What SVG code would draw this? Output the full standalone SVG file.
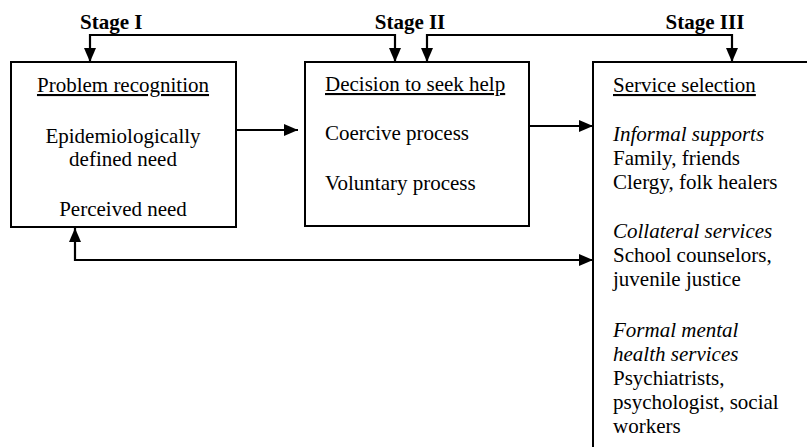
<svg xmlns="http://www.w3.org/2000/svg" width="807" height="447" viewBox="0 0 807 447">
<style>
  .box{fill:#fff;stroke:#000;stroke-width:2}
  .t{font-family:"Liberation Serif","Times New Roman",serif;font-size:21px;fill:#000}
  .b{font-weight:bold}
  .i{font-style:italic}
  .u{text-decoration:underline}
  .c{text-anchor:middle}
  .ln{fill:none;stroke:#000;stroke-width:2.2}
</style>
<defs>
  <marker id="ah" viewBox="0 0 14 12" refX="14" refY="6" markerWidth="14" markerHeight="12" markerUnits="userSpaceOnUse" orient="auto-start-reverse">
    <path d="M0,0 L14,6 L0,12 Z" fill="#000"/>
  </marker>
</defs>
<rect width="807" height="447" fill="#fff"/>
<g id="box1">
  <rect class="box" x="11" y="62" width="225" height="165"/>
  <text class="t c u" x="123" y="92">Problem recognition</text>
  <text class="t c" x="123" y="143">Epidemiologically</text>
  <text class="t c" x="123" y="166">defined need</text>
  <text class="t c" x="123" y="216">Perceived need</text>
</g>
<g id="box2">
  <rect class="box" x="305" y="62" width="224" height="164"/>
  <text class="t u" x="325" y="91">Decision to seek help</text>
  <text class="t" x="325" y="140">Coercive process</text>
  <text class="t" x="325" y="190">Voluntary process</text>
</g>
<g id="box3">
  <rect class="box" x="593" y="62" width="230" height="400"/>
  <text class="t u" x="613" y="92">Service selection</text>
  <text class="t i" x="613" y="141">Informal supports</text>
  <text class="t" x="613" y="165">Family, friends</text>
  <text class="t" x="613" y="189">Clergy, folk healers</text>
  <text class="t i" x="613" y="238">Collateral services</text>
  <text class="t" x="613" y="262">School counselors,</text>
  <text class="t" x="613" y="286">juvenile justice</text>
  <text class="t i" x="613" y="337">Formal mental</text>
  <text class="t i" x="613" y="361">health services</text>
  <text class="t" x="613" y="385">Psychiatrists,</text>
  <text class="t" x="613" y="409">psychologist, social</text>
  <text class="t" x="613" y="433">workers</text>
</g>
<g id="labels">
  <text class="t b" x="80" y="29">Stage I</text>
  <text class="t b c" x="410" y="29">Stage II</text>
  <text class="t b c" x="705" y="29">Stage III</text>
</g>
<g id="connectors">
  <path class="ln" d="M90,62 V35 H395 V62" marker-start="url(#ah)" marker-end="url(#ah)"/>
  <path class="ln" d="M427,62 V35 H732 V62" marker-start="url(#ah)" marker-end="url(#ah)"/>
  <path class="ln" d="M236,130 H298" marker-end="url(#ah)"/>
  <path class="ln" d="M529,126 H593" marker-end="url(#ah)"/>
  <path class="ln" d="M75,228 V260 H593" marker-start="url(#ah)" marker-end="url(#ah)"/>
</g>
</svg>
